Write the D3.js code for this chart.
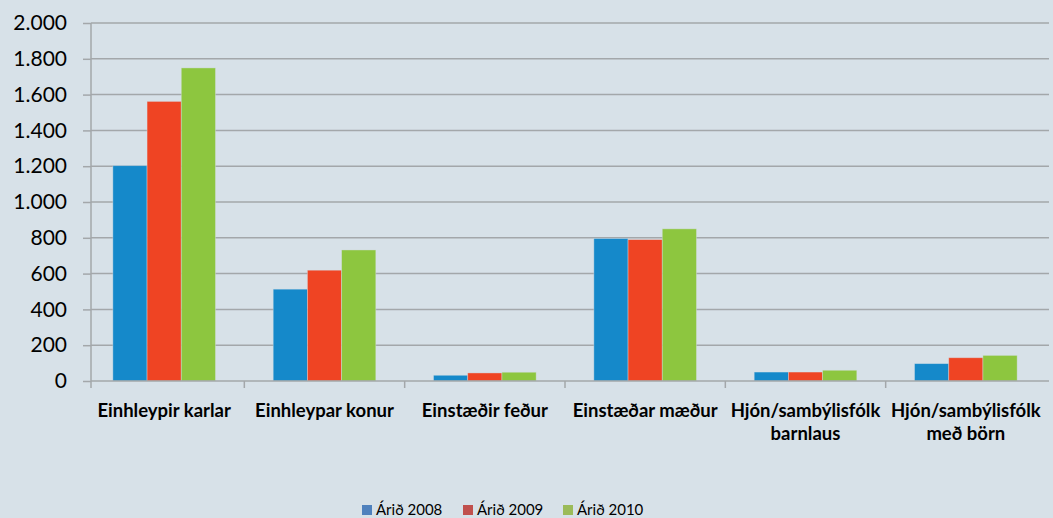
<!DOCTYPE html>
<html>
<head>
<meta charset="utf-8">
<script src="https://d3js.org/d3.v7.min.js"></script>
<style>
  body { margin: 0; background: #d7e1e8; }
  svg text { font-family: Lato, "Open Sans", sans-serif; fill: #000; }
</style>
</head>
<body>
<div id="chart"></div>
<script>
// categories (second line after "|")
var categories = ["Einhleypir karlar", "Einhleypar konur", "Einstæðir feður", "Einstæðar mæður", "Hjón/sambýlisfólk|barnlaus", "Hjón/sambýlisfólk|með börn"];
var seriesNames = ["Árið 2008", "Árið 2009", "Árið 2010"];
var values2008 = [1203, 513, 32, 796, 50, 97];
var values2009 = [1562, 619, 45, 790, 50, 130];
var values2010 = [1749, 732, 49, 850, 60, 143];
var yTicks = [0, 200, 400, 600, 800, 1000, 1200, 1400, 1600, 1800, 2000];

var barColors = ["#1589ca", "#ef4423", "#8dc63f"];
var legendColors = ["#4f81bd", "#c0504d", "#9bbb59"];

var W = 1053, H = 518;
var svg = d3.select("#chart").append("svg")
    .attr("width", W).attr("height", H);

svg.append("rect").attr("width", W).attr("height", H).attr("fill", "#d7e1e8");

var plotLeft = 91, plotRight = 1049;
var y = d3.scaleLinear().domain([0, 2000]).range([381, 23]);
var x = d3.scaleBand().domain(categories).range([84, 1046]).paddingInner(0.36).paddingOuter(0.18);
var xs = d3.scaleBand().domain(seriesNames).range([0, x.bandwidth()]);

// gridlines
svg.append("g").selectAll("line").data(yTicks.slice(1)).join("line")
    .attr("x1", plotLeft).attr("x2", plotRight)
    .attr("y1", d => y(d)).attr("y2", d => y(d))
    .attr("stroke", "#a3a7aa").attr("stroke-width", 1.5);

// y axis
var yAxis = d3.axisLeft(y).tickValues(yTicks).tickSize(8).tickPadding(16)
    .tickFormat(d => d3.format(",")(d).replace(/,/g, "."));
var gy = svg.append("g").attr("transform", "translate(" + plotLeft + ",0)").call(yAxis);
gy.select(".domain").attr("stroke", "#a3a7aa").attr("stroke-width", 1.5).attr("d", "M0,23V381");
gy.selectAll(".tick line").attr("stroke", "#a3a7aa").attr("stroke-width", 1.5);
gy.selectAll(".tick text").style("font-size", "21px").attr("fill", "#000");

// bars
var data = categories.map(function(c, i) {
  return { cat: c, vals: [values2008[i], values2009[i], values2010[i]] };
});
var groups = svg.append("g").selectAll("g").data(data).join("g")
    .attr("transform", d => "translate(" + x(d.cat) + ",0)");
groups.selectAll("rect").data(d => d.vals.map((v, j) => ({ s: seriesNames[j], v: v, j: j })))
    .join("rect")
    .attr("x", d => xs(d.s))
    .attr("width", xs.bandwidth())
    .attr("y", d => y(d.v))
    .attr("height", d => y(0) - y(d.v))
    .attr("fill", d => barColors[d.j])
    .attr("stroke", "#d7e1e8").attr("stroke-opacity", 0.5).attr("stroke-width", 0.8);

// x baseline and category ticks
svg.append("line").attr("x1", plotLeft).attr("x2", plotRight)
    .attr("y1", y(0)).attr("y2", y(0))
    .attr("stroke", "#a3a7aa").attr("stroke-width", 1.5);
var step = x.step();
var bounds = categories.map(c => x(c) - step * x.paddingInner() / 2);
bounds[0] = plotLeft;
svg.append("g").selectAll("line").data(bounds).join("line")
    .attr("x1", d => d).attr("x2", d => d)
    .attr("y1", y(0)).attr("y2", y(0) + 7)
    .attr("stroke", "#a3a7aa").attr("stroke-width", 1.5);

// category labels
var labels = svg.append("g").selectAll("text").data(categories).join("text")
    .attr("x", d => x(d) + x.bandwidth() / 2)
    .attr("y", 417)
    .attr("text-anchor", "middle")
    .style("font-size", "18.5px").style("font-weight", "bold");
labels.each(function(d) {
  var parts = d.split("|");
  var t = d3.select(this);
  parts.forEach(function(p, k) {
    t.append("tspan").attr("x", x(d) + x.bandwidth() / 2).attr("dy", k === 0 ? 0 : 23).text(p);
  });
});

// legend
var legX = [362, 463, 563];
var leg = svg.append("g").selectAll("g").data(seriesNames).join("g")
    .attr("transform", (d, i) => "translate(" + legX[i] + ",505)");
leg.append("rect").attr("width", 10).attr("height", 10).attr("fill", (d, i) => legendColors[i]);
leg.append("text").attr("x", 14).attr("y", 10).style("font-size", "15px").text(d => d);
</script>
</body>
</html>
